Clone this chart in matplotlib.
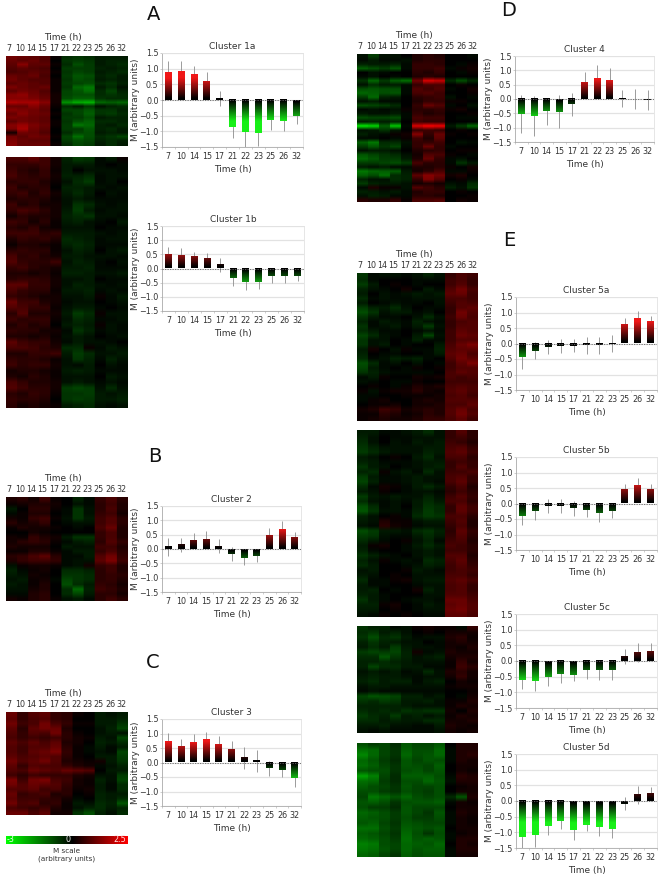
import numpy as np
import matplotlib
matplotlib.use('Agg')
import matplotlib.pyplot as plt
from matplotlib.colors import LinearSegmentedColormap

W, H = 662, 877
hours = ['7', '10', '14', '15', '17', '21', '22', '23', '25', '26', '32']

# Bar means and error sizes
m_1a = [.88, .90, .80, .60, .05, -.87, -1.03, -1.06, -.65, -.68, -.50]
e_1a = [.38, .34, .28, .28, .25, .35, .47, .41, .32, .30, .28]
m_1b = [.47, .44, .40, .32, .12, -.33, -.47, -.46, -.25, -.25, -.25]
e_1b = [.28, .27, .20, .22, .25, .27, .30, .27, .25, .25, .18]
m_2 = [.07, .15, .30, .33, .10, -.17, -.30, -.24, .48, .67, .41]
e_2 = [.32, .25, .26, .30, .25, .24, .25, .23, .25, .30, .18]
m_3 = [.72, .54, .68, .76, .62, .43, .15, .05, -.20, -.25, -.55]
e_3 = [.31, .26, .29, .28, .31, .30, .37, .37, .25, .24, .28]
m_4 = [-.53, -.60, -.43, -.44, -.19, .58, .73, .66, .03, 0, -.03]
e_4 = [.67, .70, .47, .57, .40, .37, .45, .42, .30, .35, .36]
m_5a = [-.45, -.23, -.12, -.09, -.07, -.06, -.06, -.01, .60, .80, .69]
e_5a = [.37, .28, .22, .23, .21, .27, .27, .27, .21, .25, .19]
m_5b = [-.39, -.25, -.08, -.08, -.16, -.22, -.31, -.23, .44, .58, .43]
e_5b = [.31, .27, .24, .23, .23, .23, .29, .25, .19, .25, .19]
m_5c = [-.62, -.64, -.50, -.42, -.44, -.29, -.29, -.29, .15, .27, .30]
e_5c = [.27, .31, .29, .28, .21, .28, .31, .31, .23, .30, .28]
m_5d = [-1.16, -1.10, -.80, -.65, -.92, -.76, -.82, -.89, -.09, .20, .23]
e_5d = [.38, .38, .27, .23, .31, .20, .29, .29, .21, .28, .22]

# Heatmap rows, estimated by eye, in tenths of M
hm_1a = [
    [11, 10, 9, 8, 1, -5, -6, -5, -3, -3, -3],
    [10, 9, 10, 8, 0, -6, -7, -6, -3, -4, -4],
    [9, 13, 9, 9, 1, -5, -9, -7, -3, -4, -5],
    [8, 9, 8, 7, 0, -7, -7, -7, -4, -3, -4],
    [7, 8, 9, 8, 1, -6, -8, -7, -3, -4, -5],
    [10, 9, 10, 7, 0, -7, -10, -9, -4, -5, -3],
    [11, 9, 8, 8, 1, -6, -9, -8, -3, -4, -3],
    [9, 10, 9, 8, 1, -7, -8, -9, -5, -6, -4],
    [12, 10, 9, 10, 1, -6, -12, -14, -3, -5, -2],
    [9, 11, 10, 8, 1, -8, -10, -13, -5, -8, -4],
    [13, 14, 11, 9, 2, -8, -9, -9, -5, -6, -5],
    [13, 13, 12, 10, 2, -9, -11, -11, -6, -5, -5],
    [17, 16, 16, 13, 2, -17, -20, -21, -12, -11, -12],
    [10, 10, 13, 10, 1, -5, -3, -6, -2, -4, -5],
    [13, 12, 11, 9, 0, -8, -8, -10, -6, -6, -4],
    [10, 13, 11, 10, 1, -6, -8, -11, -6, -7, -5],
    [12, 11, 10, 9, 0, -7, -7, -9, -3, -4, -4],
    [9, 11, 10, 9, 1, -6, -9, -11, -5, -5, -4],
    [13, 15, 12, 10, 1, -7, -14, -12, -4, -3, -5],
    [12, 16, 11, 9, 0, -7, -7, -10, -4, -5, -3],
    [2, 11, 10, 8, 0, -5, -8, -9, -3, -4, -3],
    [11, 9, 11, 10, 1, -8, -13, -9, -5, -6, -8],
    [12, 10, 9, 9, 0, -7, -9, -8, -4, -5, -4],
    [13, 10, 10, 10, 1, -5, -8, -7, -3, -5, -3],
]
hm_1b = [
    [7, 7, 9, 6, 2, -4, -7, -6, -1, -3, 1],
    [5, 5, 5, 6, 2, -3, -3, -3, -1, 0, -1],
    [6, 4, 3, 5, 1, -3, 0, -2, -2, -2, -1],
    [7, 5, 4, 5, 2, -4, -4, -5, -1, -2, -2],
    [4, 5, 5, 3, 1, -2, -5, -7, -1, -2, 0],
    [6, 3, 4, 4, 0, -4, -4, -3, -2, -1, -2],
    [5, 6, 3, 5, 2, -3, -5, -3, 0, -2, -1],
    [3, 4, 4, 3, 1, -2, -3, -2, -1, -1, -1],
    [6, 3, 4, 2, 2, -2, -6, -5, -2, -1, -2],
    [5, 7, 6, 4, 2, -3, -7, -3, -1, -2, -2],
    [2, 4, 3, 3, 2, -4, -5, -6, -2, -2, -1],
    [6, 5, 2, 4, 1, -3, -4, -2, -1, 0, -3],
    [4, 3, 5, 2, 1, -2, -2, -2, 0, -1, -1],
    [6, 6, 6, 4, 5, -3, -3, -3, -2, -1, -2],
    [3, 5, 4, 5, 3, -5, -4, -3, -1, -2, -2],
    [1, 3, 3, 2, 1, -4, -5, -4, -1, -1, -1],
    [4, 5, 4, 4, 1, -2, -4, -3, 0, -2, -3],
    [7, 4, 5, 3, 2, -3, -3, -2, -2, -2, -1],
    [8, 5, 4, 4, 6, -2, -4, -3, -1, 0, -2],
    [5, 6, 4, 3, 2, -3, -3, -4, -1, -1, -1],
    [3, 3, 2, 3, 1, -4, -4, -3, -2, -2, -3],
    [4, 5, 5, 4, 2, -2, -2, -3, 0, -1, -1],
    [9, 9, 5, 5, 2, -2, -4, -3, -2, -1, -2],
    [7, 5, 4, 4, 1, -3, -3, -4, -1, -2, -1],
    [5, 4, 3, 2, 2, -2, -2, -3, 1, -1, -3],
    [10, 6, 6, 3, 2, -1, -2, -2, 0, -1, -2],
    [8, 7, 5, 5, 1, -2, -3, -3, -1, 0, -1],
    [4, 8, 3, 3, 2, -3, -7, -5, 1, -2, -2],
    [6, 4, 5, 5, 1, -2, -5, -4, -1, -1, -2],
    [3, 5, 3, 4, 0, -3, -4, -3, 1, -2, -1],
    [5, 4, 4, 2, 2, -1, -6, -4, -1, -2, -1],
    [3, 3, 2, 3, 1, -2, -3, -2, 0, -1, -2],
    [9, 6, 5, 5, 2, -1, -3, -2, -2, -1, 0],
    [7, 7, 6, 4, 3, -5, -5, 1, -1, -3, -2],
    [3, 3, 5, 5, 6, -3, -7, -5, -2, -2, -3],
    [5, 4, 4, 3, 1, -2, -6, -4, -1, -4, -2],
    [6, 4, 5, 5, 2, -2, -1, -3, 0, -2, -1],
    [2, 3, 3, 2, 1, -3, -4, -3, -1, -1, -1],
    [3, 2, 4, 3, 1, -2, -2, -2, 0, -3, -2],
    [7, 5, 3, 3, 2, -2, -3, -2, -1, -2, -1],
    [8, 6, 4, 4, 2, -7, -8, -7, -2, -5, -2],
    [4, 3, 5, 4, 1, -6, -6, -7, -3, -2, -3],
    [5, 4, 4, 3, 0, -6, -7, -6, -3, -3, -4],
    [4, 2, 3, 2, 1, -3, -4, -5, -2, -1, -2],
]
hm_2 = [
    [3, 4, 2, 6, 1, 0, -4, -1, 5, 7, 4],
    [1, 2, 3, 3, 2, 0, -2, -1, 4, 6, 3],
    [-3, 0, 4, 4, 1, -1, -6, -2, 4, 7, 3],
    [-1, 1, 3, 3, 0, -1, -6, -2, 5, 6, 2],
    [2, 1, 5, 6, 1, -2, -6, -3, 6, 8, 4],
    [4, 2, 3, 5, 0, -1, -2, -2, 6, 8, 4],
    [1, 3, 2, 2, 1, 0, -1, 0, 7, 10, 3],
    [0, 0, 2, 1, 0, 0, 0, 0, 5, 7, 3],
    [2, 1, 5, 3, 2, -3, -6, -6, 5, 7, 3],
    [2, 4, 5, 4, 1, -1, -3, -4, 4, 8, 5],
    [3, 2, 2, 2, 0, -3, -2, -2, 6, 6, 3],
    [1, 1, 3, 3, 1, -1, -3, -3, 5, 7, 4],
    [4, 5, 7, 9, 4, -1, -1, -3, 8, 11, 5],
    [3, 5, 6, 6, 5, -1, -2, -2, 9, 12, 6],
    [-2, 1, 2, 2, 1, -1, -2, 2, 5, 6, 3],
    [-4, -1, 1, 2, 0, -5, -5, -4, 4, 6, 3],
    [-3, -2, 2, 1, 0, -6, -6, -5, 4, 5, 4],
    [-2, -3, 1, 2, -1, -8, -6, -5, 4, 5, 3],
    [-3, -2, 1, 3, 0, -9, -5, -3, 5, 4, 2],
    [-2, -2, 2, 3, 0, -5, -12, -4, 6, 5, 3],
    [-1, -1, 3, 4, 0, -5, -8, -3, 4, 4, 2],
    [2, 1, 3, 4, 1, -2, -3, -1, 4, 6, 4],
]
hm_3 = [
    [10, 5, 8, 9, 5, 4, 1, 0, -3, -2, -3],
    [9, 5, 7, 8, 5, 4, 0, 0, -3, -3, -4],
    [11, 6, 7, 11, 7, 5, 1, 1, -3, -3, -6],
    [9, 4, 9, 11, 10, 3, 0, 0, -2, -4, -8],
    [8, 5, 8, 7, 11, 4, 1, 0, -2, -3, -2],
    [7, 5, 6, 5, 6, 4, 2, 1, -3, -2, -8],
    [9, 7, 9, 7, 9, 3, 2, 0, -4, -3, -5],
    [8, 6, 8, 8, 10, 4, 1, -1, -3, -1, -3],
    [8, 6, 9, 10, 12, 5, 1, -1, -2, -1, -8],
    [9, 7, 8, 9, 8, 4, 1, 0, -3, -3, -7],
    [11, 8, 9, 11, 8, 3, 2, 1, 2, -3, -6],
    [9, 5, 8, 7, 7, 5, 3, 2, -1, -2, -4],
    [8, 7, 10, 9, 8, 10, 9, 8, 0, -3, -3],
    [6, 4, 6, 5, 5, 5, 3, 2, -2, -2, -7],
    [12, 6, 11, 12, 7, 6, 2, 1, -4, -2, -8],
    [11, 8, 10, 9, 8, 5, 2, 1, -3, -1, -5],
    [8, 8, 9, 6, 7, 4, 1, 2, -3, -1, -5],
    [10, 5, 6, 7, 3, 4, 0, 1, -4, -3, -3],
    [9, 6, 6, 5, 4, 2, -1, 0, -4, -3, -5],
    [11, 7, 8, 4, 5, 1, -3, -2, -5, -4, -10],
    [7, 6, 5, 6, 3, 1, -2, -4, -5, -3, -4],
    [10, 10, 7, 9, 2, 2, -6, -9, -4, -2, -5],
]
hm_4 = [
    [-2, -7, -2, -2, 0, 3, 4, 3, 0, 0, -1],
    [-1, -3, -1, -1, -2, 3, 4, 4, 0, 0, 0],
    [-4, -3, -3, -4, -1, 5, 5, 4, 0, -1, 1],
    [-11, -9, -7, -10, -1, 5, 5, 6, -1, 1, 2],
    [0, -2, -1, 0, 0, 4, 3, 5, 0, -1, 1],
    [-1, -2, 0, -1, 0, 3, 4, 3, 0, 0, 0],
    [-6, -12, -7, -11, -13, 11, 21, 19, -5, -9, -5],
    [-2, -5, -3, -3, -1, 5, 7, 7, 0, 1, 0],
    [-9, -10, -9, -9, -1, 8, 6, 8, -1, 0, 2],
    [-12, -11, -9, -10, -1, 7, 8, 6, 0, 0, 1],
    [-7, -12, -4, -3, 0, 4, 5, 6, -2, 0, -1],
    [-2, -3, -1, -1, 0, 3, 5, 5, 1, 1, 0],
    [-9, -8, -7, -5, 0, 5, 10, 8, -1, 0, -2],
    [-1, -2, -1, -2, 1, 4, 4, 5, 1, 2, 0],
    [-3, -2, -2, -3, -1, 5, 3, 4, 0, 0, 1],
    [-9, -8, -8, -9, -1, 7, 6, 6, 0, -1, -1],
    [-3, -4, -3, -4, 0, 6, 5, 5, 0, 0, 0],
    [-27, -25, -11, -23, -1, 21, 24, 23, -3, -7, -12],
    [-2, -3, -6, -3, 0, 5, 6, 5, 0, 1, 0],
    [-4, -2, -1, 1, 2, 13, 5, 10, 1, 0, 1],
    [-1, -1, 0, -1, 1, 6, 3, 9, 0, 0, 0],
    [-11, -14, -5, -5, -2, 5, 5, 6, 0, -2, -1],
    [-7, -10, -6, -8, -1, 5, 10, 5, -1, 0, 0],
    [-2, -3, -3, -2, 0, 3, 4, 5, 0, 1, 1],
    [-10, -8, -6, -5, -2, 2, 8, 7, 1, 0, -1],
    [-12, -10, -7, -7, -3, 3, 10, 5, -1, -2, 0],
    [-7, -7, -8, -9, -7, 7, 4, 4, -1, -6, -3],
    [-3, -2, -3, -1, -1, 3, 3, 4, 1, 0, 2],
    [-14, -12, -11, -11, -3, 2, 4, 7, -1, -1, 1],
    [-11, -9, -13, -5, -4, 9, 13, 11, 2, 3, 0],
    [-4, -2, -2, -5, -4, 5, 12, 8, 0, 1, -1],
    [-7, -4, -3, -3, -2, 2, 3, 2, -2, -1, -5],
    [-1, 3, 1, 1, -2, 8, 6, 4, -4, -2, -6],
    [-4, -3, -2, -3, -1, 3, 5, 5, 0, 1, 0],
    [-2, -4, -3, -1, -1, 4, 4, 3, 0, 0, 1],
    [4, 3, 3, 5, 1, 7, 7, 8, 0, 2, 1],
]
hm_5a = [
    [-6, -1, -2, -2, -1, -2, -4, -2, 5, 7, 6],
    [-5, -1, 0, 0, 0, -1, -1, -1, 6, 7, 5],
    [-7, -3, 0, 1, 0, -1, 0, 0, 6, 8, 5],
    [-4, -2, -1, 0, 2, 0, -3, -1, 8, 11, 7],
    [-3, 0, -2, -1, -2, -3, -2, -3, 9, 10, 6],
    [-5, -1, -2, -1, -1, -2, -2, -2, 7, 7, 6],
    [-3, 0, -1, -2, -1, -1, 0, -2, 6, 8, 7],
    [-7, -4, -3, -5, -2, 0, -1, -1, 5, 8, 9],
    [-9, -6, -2, -3, -3, -1, -2, 0, 5, 11, 8],
    [-6, -3, -1, -1, 0, -2, -5, -2, 6, 10, 7],
    [-4, -1, -3, -2, -1, -4, -2, -1, 5, 7, 8],
    [-6, -1, -2, -3, -1, -3, -7, -2, 5, 8, 8],
    [-5, -3, -1, -1, 0, -1, -2, -1, 6, 9, 8],
    [-8, -5, -2, -1, 0, -3, -8, -2, 6, 10, 9],
    [-6, -2, -2, 0, -1, -4, -1, -1, 6, 8, 8],
    [-6, -2, -3, 0, -1, 0, 0, -3, 7, 10, 12],
    [-3, 2, 0, -2, 1, -1, -1, -4, 8, 9, 9],
    [-4, 0, -1, -1, 0, 0, -1, -3, 9, 10, 7],
    [-5, -1, -2, -4, -3, -4, -1, 0, 8, 11, 9],
    [-9, -5, -1, -2, 0, -2, 0, -1, 6, 9, 12],
    [-8, -3, -1, 0, -1, 1, 0, 1, 6, 8, 8],
    [-6, -4, -2, -1, -1, -1, -1, 0, 7, 9, 8],
    [-1, -3, 1, 0, 0, 2, 1, 2, 7, 6, 7],
    [-2, -1, 0, -1, -1, 1, 0, 0, 6, 6, 6],
    [0, 1, 0, -1, 1, 3, 2, 3, 7, 8, 7],
    [1, -2, 1, 2, 2, 4, 2, 1, 8, 9, 7],
    [-1, -1, 0, 0, 1, 1, 1, 2, 7, 8, 6],
    [-1, 1, 2, 0, 0, 2, 3, 2, 8, 8, 8],
    [0, 1, 1, 2, 0, 2, 2, 3, 7, 7, 9],
    [2, 3, 6, 5, 2, 3, 4, 3, 8, 10, 7],
    [1, 1, 4, 3, 1, 2, 4, 3, 8, 11, 8],
    [1, 2, 3, 2, 2, 3, 5, 5, 7, 9, 6],
]
hm_5b = [
    [-3, -3, -1, -1, -2, -3, -5, -2, 5, 8, 4],
    [-4, -2, 0, -1, -1, -2, -2, -2, 5, 6, 4],
    [-5, -2, 0, -2, -1, -3, -2, -3, 6, 5, 3],
    [-6, -4, -2, -2, -2, -2, -3, -3, 7, 8, 5],
    [-7, -5, -3, -2, -2, -2, -4, -3, 8, 9, 6],
    [-3, -2, 0, 1, 0, -3, -5, -2, 7, 7, 4],
    [-4, -3, -1, -1, -1, -2, -3, -3, 5, 6, 5],
    [-6, -3, -2, 0, -1, -2, -3, -4, 5, 8, 5],
    [-4, -5, 1, -2, -3, -1, -5, -2, 6, 6, 7],
    [-7, -3, -1, -1, -2, -3, -2, -2, 7, 8, 5],
    [-8, -4, -1, -1, -2, -3, -2, -1, 7, 9, 5],
    [-5, -1, 2, 1, -1, -3, -5, -3, 5, 7, 3],
    [-3, -2, 1, 0, -1, -2, -2, -1, 4, 6, 4],
    [-7, -3, -2, -3, -2, -2, -4, -2, 6, 8, 5],
    [-5, -2, -1, -2, -1, -3, -5, -3, 7, 7, 4],
    [-9, -5, -1, -2, 0, -3, -6, -5, 5, 9, 6],
    [-10, -6, -2, -2, -1, -4, -7, -5, 5, 9, 6],
    [-4, -2, 0, 1, -1, -5, -7, -6, 7, 7, 4],
    [-3, -2, 3, 1, 1, -2, -3, -3, 6, 8, 3],
    [-2, -1, 4, 2, 1, -1, -2, -2, 5, 7, 3],
    [-9, -7, -3, -3, -2, -5, -6, -4, 4, 9, 5],
    [-7, -6, -2, -1, -1, -3, -5, -3, 5, 8, 4],
    [-5, -3, -1, 0, 1, -2, -4, -1, 6, 7, 3],
    [-3, 1, 2, 0, -1, -3, -5, -3, 7, 6, 4],
    [-4, -1, 0, 0, -1, -2, -3, -2, 6, 6, 4],
    [-6, -4, -2, -1, 0, -2, -3, -2, 8, 8, 3],
    [-4, -2, 1, -1, -2, -1, -5, -4, 7, 9, 4],
    [-5, -3, 0, 0, -1, -2, -4, -3, 6, 8, 5],
    [-2, -3, 0, 0, 1, -3, -2, -1, 6, 7, 6],
    [-3, -2, 0, 1, 0, -2, -2, -2, 7, 7, 5],
    [-5, -1, -1, 1, 2, -2, -3, -3, 8, 9, 7],
    [-3, -1, -1, 0, 0, -1, -2, -2, 7, 8, 5],
    [-3, -4, 0, -1, 0, 2, -4, -2, 7, 8, 5],
    [-4, -3, -1, 0, 0, 0, -2, -2, 8, 8, 6],
    [-6, -3, -1, 0, -1, -2, -2, -1, 10, 10, 7],
    [-4, -4, 1, 2, 0, -1, -3, -2, 9, 10, 8],
    [-3, -3, 0, 1, 0, -1, -2, -2, 10, 11, 8],
    [-2, -1, 1, 0, 1, 0, -1, -1, 9, 9, 7],
]
hm_5c = [
    [-6, -4, -4, -1, -2, 1, 2, 1, 1, -1, 5],
    [-5, -6, -3, -4, -2, 0, 1, 0, 2, 2, 2],
    [-6, -9, -5, -6, -3, -1, -2, -2, 3, 4, 1],
    [-4, -6, -4, -3, -2, -2, 0, -1, 2, 3, 2],
    [-3, -5, -3, -7, -3, -2, -2, -1, 2, 1, 3],
    [-7, -8, -7, -8, -4, 2, -1, -2, 3, 2, 2],
    [-5, -5, -10, -6, -4, -2, -3, -4, 2, 3, 3],
    [-4, -4, -5, -4, -3, -2, -2, -2, 1, 5, 2],
    [-4, -8, -5, -5, -3, -3, -1, -1, 1, 6, 4],
    [-2, -3, -2, -3, -1, -2, -5, -2, 3, 4, 2],
    [-3, -4, -3, -3, -2, -1, -2, -2, 2, 5, 2],
    [-4, -5, -3, -4, -4, -1, -3, -4, 0, 2, 1],
    [-2, -3, -3, -2, -2, -2, -2, -2, 1, 2, 2],
    [-1, -2, -1, -1, -1, -1, -1, -1, 0, 0, 1],
    [-8, -10, -9, -8, -4, -4, -2, -3, 0, -1, 2],
    [-6, -5, -7, -6, -3, -3, -4, -2, 1, 1, 3],
    [-4, -4, -4, -4, -3, -2, -2, -2, 1, 3, 2],
    [-5, -4, -5, -4, -6, -5, -6, -6, 2, 0, 3],
    [-7, -5, -4, -7, -3, -4, -2, -3, 1, 3, 2],
    [-5, -5, -3, -4, -3, -3, -5, -5, 2, 2, 3],
    [-3, -3, -4, -2, -2, -1, -1, -3, 3, 2, 1],
    [-2, -1, -2, -1, -1, -1, -1, -2, 2, 1, 2],
]
hm_5d = [
    [-9, -7, -8, -5, -10, -8, -8, -10, 0, 3, 3],
    [-13, -12, -8, -6, -11, -9, -9, -12, -1, 3, 3],
    [-16, -12, -8, -6, -12, -9, -10, -12, -1, 3, 4],
    [-12, -10, -7, -5, -10, -8, -10, -9, -1, 3, 2],
    [-13, -11, -8, -6, -10, -9, -8, -11, 0, 2, 2],
    [-10, -9, -9, -6, -9, -10, -8, -10, 0, 2, 1],
    [-19, -15, -8, -5, -11, -11, -11, -9, -1, 4, 3],
    [-13, -12, -7, -5, -9, -9, -12, -10, -2, 3, 3],
    [-11, -9, -8, -6, -10, -8, -8, -9, 0, 1, 2],
    [-9, -9, -7, -6, -9, -8, -7, -9, 0, 2, 2],
    [-8, -14, -12, -10, -12, -9, -8, -9, -5, -10, 3],
    [-10, -11, -9, -6, -9, -10, -10, -11, -1, 2, 1],
    [-9, -7, -7, -5, -10, -8, -8, -8, 0, 2, 2],
    [-12, -11, -9, -7, -10, -8, -6, -10, -1, 3, 2],
    [-11, -10, -9, -7, -9, -7, -7, -9, -1, 2, 1],
    [-10, -11, -8, -6, -10, -9, -8, -8, -1, 2, 1],
    [-13, -13, -9, -7, -11, -10, -9, -10, 0, 2, 2],
    [-11, -10, -8, -6, -12, -9, -6, -9, -1, 1, 2],
    [-12, -11, -9, -7, -13, -10, -11, -10, -1, 3, 3],
    [-15, -14, -9, -8, -12, -11, -10, -12, 0, 3, 2],
    [-14, -13, -10, -8, -12, -10, -11, -11, -1, 3, 3],
    [-12, -11, -8, -6, -11, -9, -10, -10, -1, 2, 2],
]

# name, means, errors, axes box in pixels (left, right, top, bottom)
bar_panels = [
    ('Cluster 1a', m_1a, e_1a, (162, 303, 53, 147)),
    ('Cluster 1b', m_1b, e_1b, (162, 304, 226, 311)),
    ('Cluster 2', m_2, e_2, (162, 301, 506, 592)),
    ('Cluster 3', m_3, e_3, (162, 301, 719, 806)),
    ('Cluster 4', m_4, e_4, (515, 654, 56, 142)),
    ('Cluster 5a', m_5a, e_5a, (516, 657, 297, 390)),
    ('Cluster 5b', m_5b, e_5b, (516, 657, 457, 550)),
    ('Cluster 5c', m_5c, e_5c, (516, 657, 614, 708)),
    ('Cluster 5d', m_5d, e_5d, (516, 657, 754, 848)),
]
# rows, box in pixels, whether the hours header is drawn
heat_panels = [
    (hm_1a, (6, 127, 56, 146), True),
    (hm_1b, (6, 127, 157, 408), False),
    (hm_2, (6, 127, 497, 601), True),
    (hm_3, (6, 127, 712, 815), True),
    (hm_4, (357, 478, 54, 202), True),
    (hm_5a, (357, 478, 273, 421), True),
    (hm_5b, (357, 478, 430, 617), False),
    (hm_5c, (357, 478, 626, 733), False),
    (hm_5d, (357, 478, 743, 857), False),
]
letters = [('A', 154, 14), ('B', 155, 456), ('C', 153, 662), ('D', 509, 11), ('E', 509, 240)]

heat_cmap = LinearSegmentedColormap.from_list('heat', [(0, '#00ff00'), (30 / 55, '#000000'), (1, '#ff0000')])
bar_cmap = LinearSegmentedColormap.from_list('bars', [(0, '#18f018'), (0.15, '#18f018'), (0.475, '#000000'),
                                                      (0.525, '#000000'), (0.85, '#f01818'), (1, '#f01818')])
text_col = '#333333'

fig = plt.figure(figsize=(W / 100, H / 100), dpi=100)


def px_axes(box):
    left, right, top, bottom = box
    return fig.add_axes([left / W, 1 - bottom / H, (right - left) / W, (bottom - top) / H])


def draw_bars(name, means, errors, box):
    ax = px_axes(box)
    x = np.arange(len(means))
    # error lines go under the bars, only the part outside a bar shows
    ax.errorbar(x, means, yerr=errors, fmt='none', ecolor='#8c8c8c', elinewidth=0.6, zorder=1.5)
    for i, m in enumerate(means):
        grad = np.linspace(0, m, 50).reshape(-1, 1)
        ax.imshow(grad, extent=[i - 0.27, i + 0.27, 0, m], origin='lower', aspect='auto',
                  cmap=bar_cmap, vmin=-1, vmax=1, zorder=2)
    ax.axhline(0, color='#666666', lw=0.6, ls=(0, (1.5, 1.5)), zorder=4)
    ax.set_xlim(-0.5, 10.5)
    ax.set_ylim(-1.5, 1.5)
    ax.set_yticks([-1.5, -1, -0.5, 0, 0.5, 1, 1.5])
    ax.set_xticks(x)
    ax.set_xticklabels(hours)
    ax.set_xticks(np.arange(-0.5, 11), minor=True)
    ax.tick_params(axis='x', which='major', length=0, labelsize=5.8, pad=3.5, labelcolor=text_col)
    ax.tick_params(axis='x', which='minor', length=1.5, width=0.4, color='#aaaaaa')
    ax.tick_params(axis='y', length=1.5, width=0.4, color='#aaaaaa', labelsize=5.8, pad=1, labelcolor=text_col)
    ax.grid(axis='y', color='#e2e2e2', lw=0.9, zorder=0)
    ax.set_axisbelow(True)
    for side in ['top', 'right']:
        ax.spines[side].set_color('#e2e2e2')
        ax.spines[side].set_linewidth(0.6)
    for side in ['left', 'bottom']:
        ax.spines[side].set_color('#aaaaaa')
        ax.spines[side].set_linewidth(0.6)
    ax.set_title(name, fontsize=6.5, color=text_col, pad=3)
    ax.set_xlabel('Time (h)', fontsize=6.5, color=text_col, labelpad=3)
    ax.set_ylabel('M (arbitrary units)', fontsize=6.5, color=text_col)
    ax.yaxis.set_label_coords(-22 / (box[1] - box[0]), 0.5)


def draw_heat(rows, box, header):
    ax = px_axes(box)
    # columns stay sharp, only the rows are softened
    grid = np.repeat(np.array(rows, dtype=float), 10, axis=1)
    n = len(rows)
    ax.imshow(grid, cmap=heat_cmap, vmin=-30, vmax=25, aspect='auto', interpolation='bilinear',
              extent=[-0.5, 10.5, n - 0.5, -0.5])
    for side in ax.spines.values():
        side.set_visible(False)
    ax.set_yticks([])
    if header:
        ax.xaxis.tick_top()
        ax.set_xticks(np.linspace(-0.25, 10, 11))
        ax.set_xticklabels(hours)
        ax.tick_params(axis='x', length=0, labelsize=5.8, pad=2.5, labelcolor=text_col)
        ax.set_title('Time (h)', fontsize=6.5, color=text_col, pad=11.5, x=0.47)
    else:
        ax.set_xticks([])


for name, means, errors, box in bar_panels:
    draw_bars(name, means, errors, box)
for rows, box, header in heat_panels:
    draw_heat(rows, box, header)

# M scale strip
cax = px_axes((6, 127, 836, 844))
cax.imshow(np.linspace(-30, 25, 256).reshape(1, -1), cmap=heat_cmap, vmin=-30, vmax=25, aspect='auto')
cax.axis('off')
fig.text(11 / W, 1 - 840 / H, '-3', fontsize=5.8, color='#e8ffe8', ha='center', va='center')
fig.text(68 / W, 1 - 840 / H, '0', fontsize=5.8, color='#eeeeee', ha='center', va='center')
fig.text(120 / W, 1 - 840 / H, '2.5', fontsize=5.8, color='#ffe0e0', ha='center', va='center')
fig.text(67 / W, 1 - 851 / H, 'M scale', fontsize=5.2, color=text_col, ha='center', va='center')
fig.text(67 / W, 1 - 859 / H, '(arbitrary units)', fontsize=5.2, color=text_col, ha='center', va='center')

for label, px, py in letters:
    fig.text(px / W, 1 - py / H, label, fontsize=14, color='#111111', ha='center', va='center')

fig.savefig('out.png', dpi=100)
